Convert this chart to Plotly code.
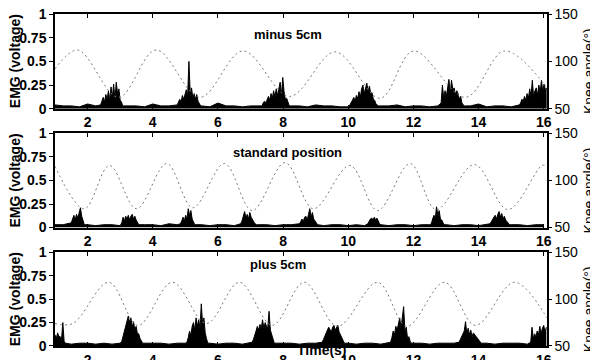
import plotly.graph_objects as go

# ---------------- data ----------------
time_ticks = [2, 4, 6, 8, 10, 12, 14, 16]
emg_ticks = [0, 0.25, 0.5, 0.75, 1]
emg_tick_labels = ["0", "0.25", "0.5", "0.75", "1"]
angle_ticks = [50, 100, 150]
panel_titles = ["minus 5cm", "standard position", "plus 5cm"]
left_title = "EMG (voltage)"
right_title = "Knee angle(°)"
x_title = "Time(s)"

# knee angle (deg) read at extrema
minus_knee_t = [1.0, 1.7, 2.95, 4.1, 5.45, 6.77, 8.2, 9.6, 10.98, 12.0, 13.6, 14.8, 16.1]
minus_knee_deg = [92, 112, 62, 112, 62, 111, 63, 110, 61, 111, 62, 111, 72]

standard_knee_t = [1.0, 1.9, 2.67, 3.5, 4.43, 5.23, 6.2, 7.05, 8.06, 8.93, 10.05, 10.9,
                   11.9, 12.7, 13.87, 14.9, 15.95, 16.1]
standard_knee_deg = [115, 70, 116, 70, 118, 71, 118, 68, 119, 70, 116, 68,
                     118, 69, 117, 69, 116, 115]

plus_knee_t = [1.0, 1.55, 2.65, 3.55, 4.6, 5.65, 6.66, 7.67, 8.65, 9.67, 10.9, 11.8,
               12.95, 13.9, 15.1, 16.1]
plus_knee_deg = [74, 74, 118, 72, 118, 74, 118, 72, 118, 71, 118, 71,
                 118, 72, 118, 80]

# EMG baseline samples, one every 0.25 s from 1.0 s to 16.0 s
minus_base = [0.04, 0.03, 0.03, 0.02, 0.05, 0.03, 0.02, 0.02, 0.02, 0.03,
              0.03, 0.02, 0.05, 0.03, 0.03, 0.02, 0.02, 0.02, 0.03, 0.02,
              0.06, 0.03, 0.03, 0.02, 0.03, 0.03, 0.02, 0.03, 0.02, 0.03,
              0.03, 0.02, 0.04, 0.03, 0.03, 0.02, 0.02, 0.03, 0.03, 0.02,
              0.03, 0.03, 0.04, 0.02, 0.03, 0.03, 0.02, 0.03, 0.02, 0.03,
              0.02, 0.03, 0.05, 0.02, 0.03, 0.03, 0.02, 0.03, 0.02, 0.03, 0.03]
standard_base = [0.03, 0.03, 0.02, 0.03, 0.03, 0.02, 0.03, 0.03, 0.02, 0.03,
                 0.02, 0.03, 0.03, 0.02, 0.04, 0.03, 0.02, 0.03, 0.03, 0.02,
                 0.03, 0.03, 0.02, 0.03, 0.02, 0.03, 0.03, 0.02, 0.03, 0.03,
                 0.02, 0.03, 0.03, 0.02, 0.03, 0.03, 0.02, 0.03, 0.02, 0.03,
                 0.03, 0.02, 0.03, 0.03, 0.02, 0.03, 0.03, 0.02, 0.03, 0.02,
                 0.03, 0.03, 0.02, 0.03, 0.03, 0.02, 0.03, 0.03, 0.02, 0.03, 0.03]
plus_base = [0.03, 0.03, 0.02, 0.03, 0.03, 0.02, 0.03, 0.02, 0.03, 0.03,
             0.02, 0.03, 0.03, 0.03, 0.02, 0.03, 0.03, 0.02, 0.03, 0.03,
             0.02, 0.03, 0.03, 0.02, 0.03, 0.03, 0.02, 0.03, 0.03, 0.03,
             0.02, 0.03, 0.03, 0.02, 0.03, 0.03, 0.03, 0.02, 0.03, 0.03,
             0.02, 0.03, 0.03, 0.02, 0.03, 0.03, 0.02, 0.03, 0.03, 0.03,
             0.02, 0.03, 0.03, 0.03, 0.02, 0.03, 0.03, 0.03, 0.02, 0.03, 0.03]

# EMG bursts: start time (s) and samples every 0.04 s
minus_burst_start = [2.4, 4.75, 7.35, 10.05, 12.85, 15.25]
minus_burst_vals = [
    [0.04, 0.08, 0.12, 0.07, 0.15, 0.1, 0.19, 0.09, 0.23, 0.12, 0.26, 0.1, 0.28, 0.16, 0.21, 0.09, 0.07, 0.03],
    [0.04, 0.07, 0.1, 0.07, 0.14, 0.1, 0.17, 0.2, 0.13, 0.5, 0.16, 0.22, 0.12, 0.16, 0.1, 0.15, 0.08, 0.06, 0.03],
    [0.03, 0.06, 0.08, 0.06, 0.1, 0.13, 0.09, 0.16, 0.11, 0.19, 0.12, 0.21, 0.14, 0.23, 0.28, 0.14, 0.33, 0.18, 0.1, 0.11, 0.06, 0.03],
    [0.04, 0.06, 0.09, 0.12, 0.08, 0.14, 0.11, 0.18, 0.12, 0.21, 0.25, 0.16, 0.23, 0.27, 0.18, 0.24, 0.16, 0.17, 0.1, 0.09, 0.05, 0.04, 0.03],
    [0.06, 0.25, 0.11, 0.19, 0.13, 0.21, 0.31, 0.16, 0.3, 0.2, 0.22, 0.15, 0.19, 0.16, 0.1, 0.13, 0.06, 0.04, 0.03],
    [0.04, 0.06, 0.1, 0.08, 0.13, 0.09, 0.16, 0.11, 0.21, 0.13, 0.3, 0.12, 0.19, 0.22, 0.14, 0.25, 0.17, 0.3, 0.18, 0.26, 0.2, 0.22],
]
standard_burst_start = [1.5, 3.05, 4.85, 6.7, 8.5, 10.6, 12.55, 14.35]
standard_burst_vals = [
    [0.05, 0.09, 0.13, 0.08, 0.14, 0.1, 0.15, 0.21, 0.12, 0.07, 0.03],
    [0.05, 0.11, 0.07, 0.12, 0.09, 0.13, 0.08, 0.12, 0.14, 0.09, 0.12, 0.08, 0.05, 0.03],
    [0.04, 0.07, 0.11, 0.07, 0.13, 0.09, 0.2, 0.13, 0.18, 0.09, 0.06, 0.03],
    [0.04, 0.07, 0.11, 0.17, 0.1, 0.14, 0.09, 0.16, 0.11, 0.08, 0.06, 0.04, 0.03],
    [0.04, 0.06, 0.09, 0.06, 0.11, 0.12, 0.08, 0.14, 0.2, 0.11, 0.16, 0.09, 0.07, 0.04, 0.03],
    [0.04, 0.07, 0.09, 0.1, 0.08, 0.11, 0.08, 0.1, 0.06, 0.04, 0.03],
    [0.04, 0.09, 0.13, 0.09, 0.22, 0.13, 0.18, 0.09, 0.08, 0.05, 0.03],
    [0.04, 0.06, 0.09, 0.11, 0.13, 0.09, 0.14, 0.17, 0.11, 0.15, 0.09, 0.12, 0.08, 0.06, 0.04, 0.03],
]
plus_burst_start = [1.0, 3.05, 5.05, 7.05, 9.2, 11.3, 13.4, 15.6]
plus_burst_vals = [
    [0.12, 0.08, 0.14, 0.1, 0.1, 0.07, 0.25, 0.05, 0.03],
    [0.05, 0.11, 0.16, 0.2, 0.26, 0.32, 0.25, 0.3, 0.2, 0.26, 0.17, 0.21, 0.13, 0.13, 0.08, 0.05, 0.03],
    [0.04, 0.09, 0.16, 0.11, 0.21, 0.25, 0.17, 0.3, 0.21, 0.28, 0.19, 0.45, 0.23, 0.3, 0.14, 0.08, 0.03],
    [0.04, 0.07, 0.13, 0.16, 0.21, 0.17, 0.23, 0.19, 0.28, 0.19, 0.25, 0.21, 0.2, 0.37, 0.17, 0.12, 0.06, 0.03],
    [0.04, 0.07, 0.11, 0.15, 0.17, 0.2, 0.17, 0.15, 0.2, 0.22, 0.17, 0.2, 0.22, 0.15, 0.12, 0.08, 0.05, 0.03],
    [0.04, 0.09, 0.16, 0.12, 0.21, 0.17, 0.26, 0.3, 0.19, 0.28, 0.42, 0.15, 0.2, 0.08, 0.1, 0.05, 0.03],
    [0.04, 0.07, 0.11, 0.13, 0.16, 0.26, 0.13, 0.19, 0.12, 0.17, 0.1, 0.14, 0.12, 0.1, 0.08, 0.06, 0.04, 0.03],
    [0.04, 0.2, 0.08, 0.13, 0.1, 0.16, 0.12, 0.21, 0.13, 0.19, 0.22, 0.15, 0.2],
]

BASE_T0, BASE_DT, BURST_DT = 1.0, 0.25, 0.04


def emg_series(base, starts, bursts):
    pts = []
    spans = []
    for s, vals in zip(starts, bursts):
        ts = [s + BURST_DT * j for j in range(len(vals))]
        spans.append((ts[0] - 0.02, ts[-1] + 0.02))
        pts.extend(zip(ts, vals))
    for i, v in enumerate(base):
        t = BASE_T0 + BASE_DT * i
        if not any(a <= t <= b for a, b in spans):
            pts.append((t, v))
    pts.sort()
    return [p[0] for p in pts], [p[1] for p in pts]


panels = [
    (minus_base, minus_burst_start, minus_burst_vals, minus_knee_t, minus_knee_deg),
    (standard_base, standard_burst_start, standard_burst_vals, standard_knee_t, standard_knee_deg),
    (plus_base, plus_burst_start, plus_burst_vals, plus_knee_t, plus_knee_deg),
]

# the captured picture comes out squeezed vertically (~0.94), so lay out in a taller figure
W, H = 590, 380
SY = H / 360.0
AX_L, AX_R = 55, 547          # picture px of plot area left/right


def fy(py):
    return py * SY


ML, MR = AX_L, W - AX_R
MT, MB = int(round(fy(12))), int(round(H - fy(348)))
plot_w = W - ML - MR
plot_h = H - MT - MB
panel_px = [(12, 108), (133, 228), (253, 348)]   # picture px (top, bottom)


def px_to_paper_y(py):
    return (H - MB - fy(py)) / plot_h


def px_to_paper_x(px):
    return (px - ML) / plot_w


domains = [[max(0.0, px_to_paper_y(b)), min(1.0, px_to_paper_y(t))] for t, b in panel_px]

fig = go.Figure()
FONT = "Liberation Sans, Arial, sans-serif"

for k, (base, starts, bursts, kt, kd) in enumerate(panels):
    xa = "x" if k == 0 else f"x{k + 1}"
    yl = "y" if k == 0 else f"y{2 * k + 1}"
    yr = f"y{2 * k + 2}"
    et, ev = emg_series(base, starts, bursts)
    fig.add_trace(go.Scatter(x=et, y=ev, xaxis=xa, yaxis=yl, mode="lines",
                             line=dict(color="black", width=1), fill="tozeroy",
                             fillcolor="black", showlegend=False, hoverinfo="skip"))
    fig.add_trace(go.Scatter(x=kt, y=kd, xaxis=xa, yaxis=yr, mode="lines",
                             line=dict(color="#7a7a7a", width=1, dash="2px,3px",
                                       shape="spline", smoothing=1.0),
                             showlegend=False, hoverinfo="skip"))

layout = dict(width=W, height=H, margin=dict(l=ML, r=MR, t=MT, b=MB),
              paper_bgcolor="white", plot_bgcolor="white", showlegend=False,
              font=dict(family=FONT, color="black"))

annotations = []
for k in range(3):
    xkey = "xaxis" if k == 0 else f"xaxis{k + 1}"
    ylkey = "yaxis" if k == 0 else f"yaxis{2 * k + 1}"
    yrkey = f"yaxis{2 * k + 2}"
    yl_id = "y" if k == 0 else f"y{2 * k + 1}"
    x_id = "x" if k == 0 else f"x{k + 1}"
    layout[xkey] = dict(domain=[0, 1], anchor=yl_id, range=[1, 16.1],
                        tickvals=time_ticks, ticks="inside", ticklen=4,
                        tickcolor="black", showline=True, linecolor="black",
                        linewidth=1.5, mirror="ticks", showgrid=False, zeroline=False,
                        tickfont=dict(size=14, family=FONT, weight="bold"))
    layout[ylkey] = dict(domain=domains[k], anchor=x_id, range=[0, 1],
                         tickvals=emg_ticks, ticktext=emg_tick_labels,
                         ticks="outside", ticklen=4, tickcolor="black",
                         showline=True, linecolor="black", linewidth=1.5,
                         showgrid=False, zeroline=False,
                         tickfont=dict(size=14, family=FONT, weight="bold"),
                         automargin=False)
    layout[yrkey] = dict(overlaying=yl_id, anchor=x_id, side="right", range=[50, 150],
                         tickvals=angle_ticks, ticks="outside", ticklen=3,
                         tickcolor="black", showline=True, linecolor="black",
                         linewidth=1.5, showgrid=False, zeroline=False,
                         tickfont=dict(size=14, family=FONT),
                         automargin=False)
    top, bot = panel_px[k]
    mid = (top + bot) / 2
    annotations.append(dict(text=left_title, xref="paper", yref="paper",
                            x=px_to_paper_x(15), y=px_to_paper_y(mid), textangle=-90,
                            showarrow=False, xanchor="center", yanchor="middle",
                            font=dict(size=14, family=FONT, weight="bold")))
    annotations.append(dict(text=right_title, xref="paper", yref="paper",
                            x=px_to_paper_x(589), y=px_to_paper_y(mid + 10), textangle=-90,
                            showarrow=False, xanchor="center", yanchor="middle",
                            font=dict(size=14, family=FONT)))

title_pos = [(288, 33), (287, 152), (278, 265)]
for (px, py), txt in zip(title_pos, panel_titles):
    annotations.append(dict(text=txt, xref="paper", yref="paper",
                            x=px_to_paper_x(px), y=px_to_paper_y(py),
                            showarrow=False, xanchor="center", yanchor="middle",
                            font=dict(size=13, family=FONT, weight="bold")))
annotations.append(dict(text=x_title, xref="paper", yref="paper",
                        x=px_to_paper_x(322), y=px_to_paper_y(352),
                        showarrow=False, xanchor="center", yanchor="middle",
                        font=dict(size=14, family=FONT, weight="bold")))
layout["annotations"] = annotations

fig.update_layout(**layout)
fig.write_html("out.html", config={"displayModeBar": False},
               post_script="document.body.style.margin='0';"
                           "document.body.style.overflow='hidden';")
